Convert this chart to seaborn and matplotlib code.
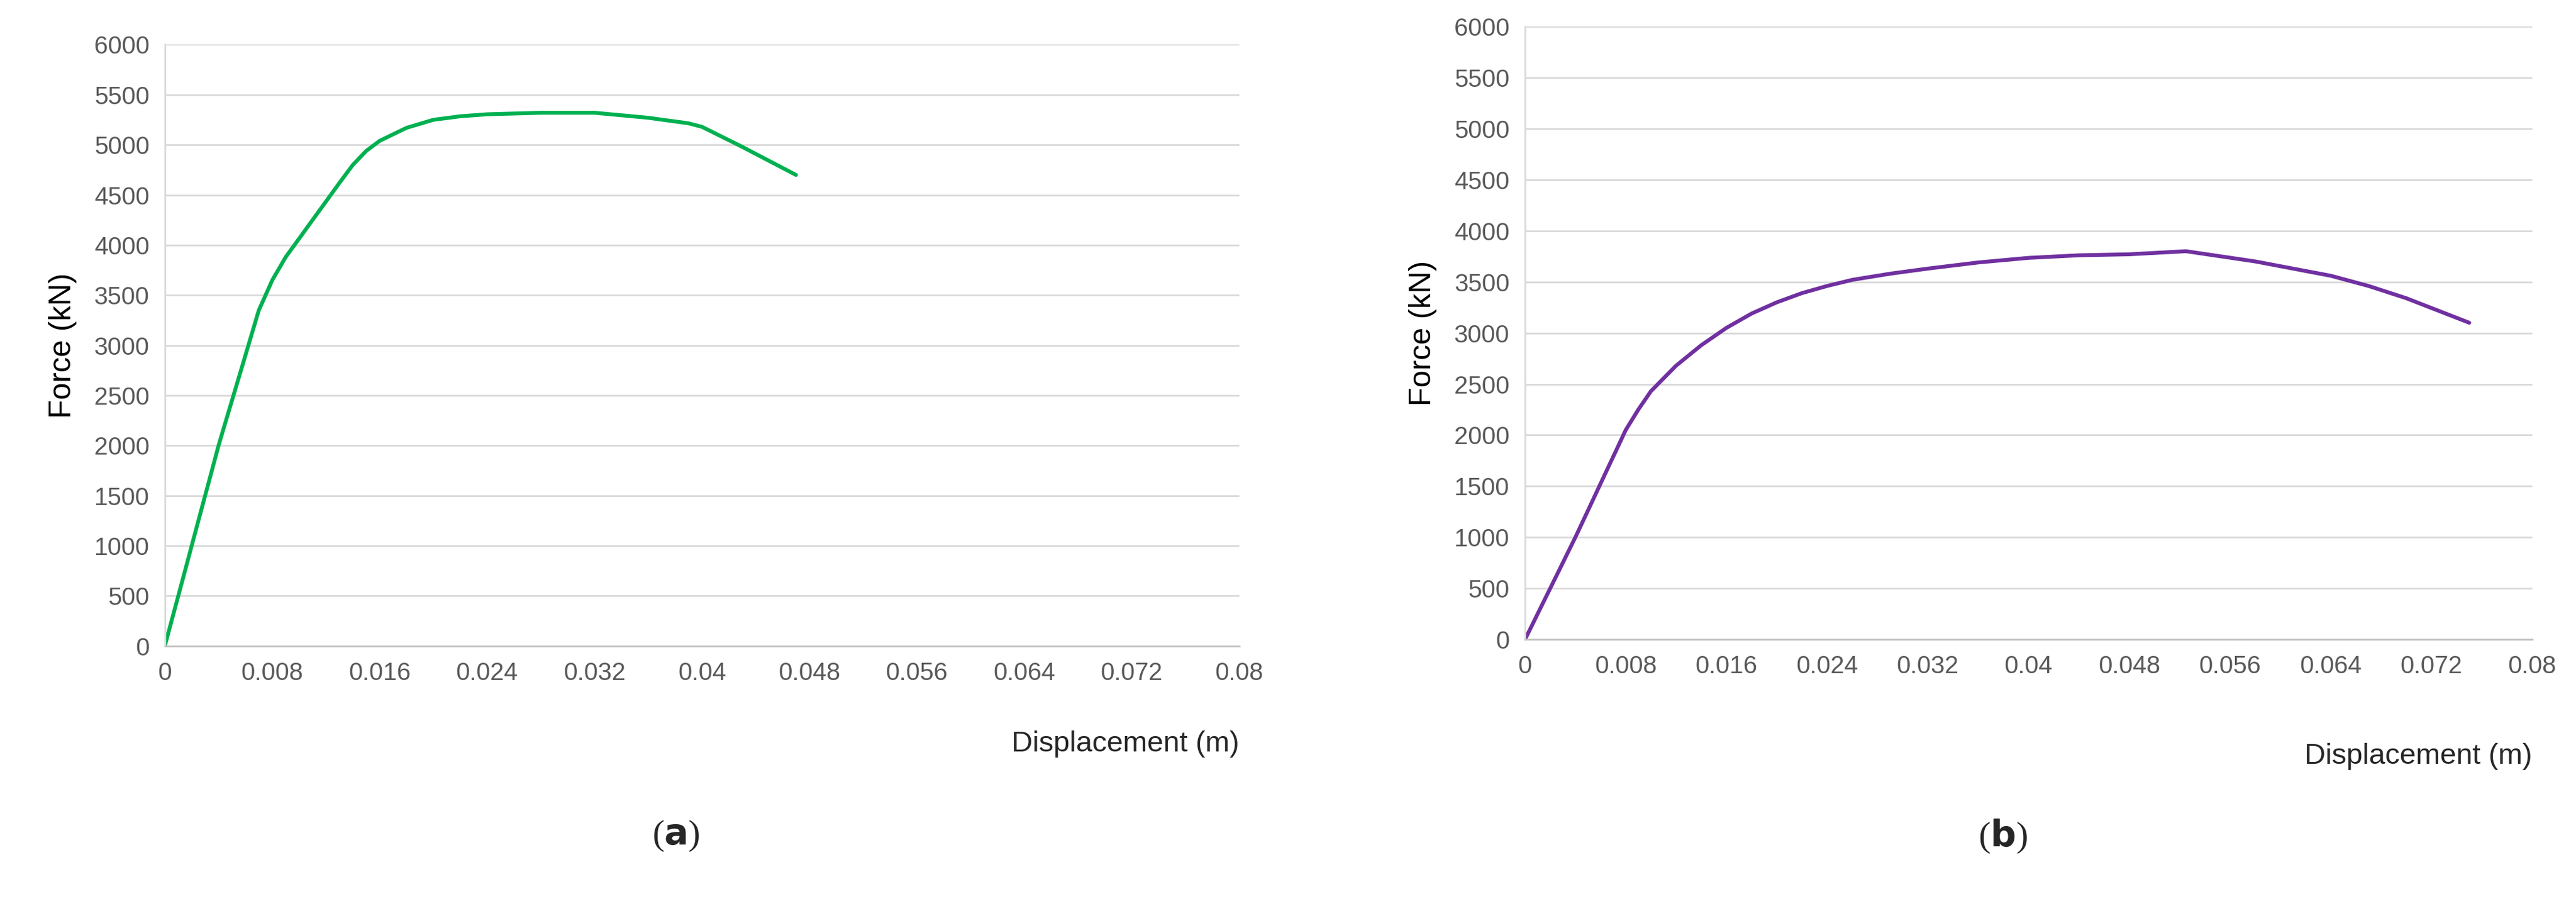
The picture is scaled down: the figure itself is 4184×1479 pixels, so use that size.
import numpy as np
import pandas as pd
import matplotlib
matplotlib.use('Agg')
import matplotlib.pyplot as plt
import seaborn as sns

# curve (a)
disp_a = [0, 0.004, 0.007, 0.008, 0.009, 0.011, 0.013, 0.014, 0.015, 0.016, 0.018, 0.020, 0.022, 0.024,
          0.028, 0.032, 0.036, 0.039, 0.040, 0.043, 0.047]
force_a = [0, 2000, 3350, 3650, 3880, 4250, 4620, 4800, 4940, 5040, 5170, 5250, 5285, 5305,
           5320, 5320, 5270, 5215, 5180, 4980, 4700]
# curve (b)
disp_b = [0, 0.004, 0.008, 0.009, 0.010, 0.012, 0.014, 0.016, 0.018, 0.020, 0.022, 0.024, 0.026, 0.029,
          0.032, 0.036, 0.040, 0.044, 0.048, 0.0525, 0.058, 0.064, 0.067, 0.070, 0.075]
force_b = [0, 1000, 2050, 2250, 2430, 2680, 2880, 3050, 3190, 3300, 3390, 3460, 3520, 3580,
           3630, 3690, 3735, 3760, 3770, 3800, 3700, 3560, 3460, 3340, 3100]

x_ticks = [0, 0.008, 0.016, 0.024, 0.032, 0.04, 0.048, 0.056, 0.064, 0.072, 0.08]
x_labels = ['0', '0.008', '0.016', '0.024', '0.032', '0.04', '0.048', '0.056', '0.064', '0.072', '0.08']
y_ticks = list(range(0, 6001, 500))

sns.set_style('white')
plt.rcParams['font.family'] = ['Liberation Sans', 'DejaVu Sans']

fig = plt.figure(figsize=(41.84, 14.79), dpi=100)
ax_a = fig.add_axes([0.064, 0.291, 0.417, 0.660])
ax_b = fig.add_axes([0.592, 0.298, 0.391, 0.673])

panels = [(ax_a, disp_a, force_a, '#00B050', 'a', 0.183),
          (ax_b, disp_b, force_b, '#7030A0', 'b', 0.170)]

for ax, xs, ys, color, tag, ylab_pos in panels:
    df = pd.DataFrame({'d': xs, 'f': ys})
    sns.lineplot(data=df, x='d', y='f', ax=ax, color=color, linewidth=4.5, sort=False)
    ax.set_xlim(0, 0.08)
    ax.set_ylim(0, 6000)
    ax.set_xticks(x_ticks)
    ax.set_xticklabels(x_labels)
    ax.set_yticks(y_ticks)
    ax.grid(axis='y', color='#d9d9d9', linewidth=2)
    ax.set_axisbelow(True)
    for s in ['top', 'right']:
        ax.spines[s].set_visible(False)
    ax.spines['left'].set_color('#d9d9d9')
    ax.spines['bottom'].set_color('#bfbfbf')
    ax.spines['left'].set_linewidth(2)
    ax.spines['bottom'].set_linewidth(2)
    ax.tick_params(axis='both', length=0, labelsize=29, labelcolor='#595959', pad=18)
    ax.set_xlabel('')
    ax.set_ylabel('Force (kN)', fontsize=36, color='black', labelpad=20)
    bbox = ax.get_position()
    fig.text(bbox.x1, ylab_pos, 'Displacement (m)', ha='right', va='center', fontsize=34)
    fig.text((bbox.x0 + bbox.x1) / 2 - 0.01, 0.082, '(' + r'$\mathbf{' + tag + '}$' + ')',
             ha='center', va='center', fontsize=42, family='Liberation Serif')

fig.savefig('out.png', dpi=100)
